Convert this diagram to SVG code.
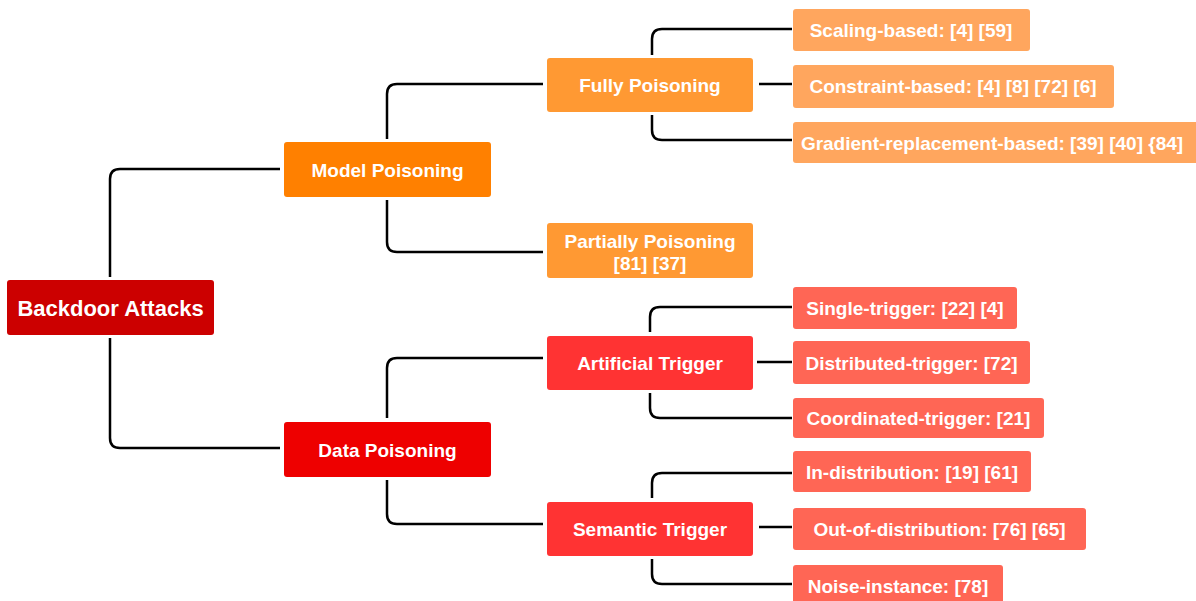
<svg xmlns="http://www.w3.org/2000/svg" width="1196" height="601" viewBox="0 0 1196 601">
  <style>
    .edge { fill: none; stroke: #000; stroke-width: 2.5; }
    text { font-family: "Liberation Sans", Arial, sans-serif; font-weight: bold; fill: #fff; text-anchor: middle; }
    .t19 { font-size: 19px; }
    .t22 { font-size: 22px; }
    .root { fill: #CC0000; }
    .model { fill: #FF8000; }
    .data { fill: #EE0000; }
    .mid-m { fill: #FF9933; }
    .mid-d { fill: #FF3333; }
    .leaf-m { fill: #FFA65E; }
    .leaf-d { fill: #FF6655; }
  </style>

  <g id="connectors">
    <!-- root to first level -->
    <path class="edge" d="M110,277 V179 Q110,169 120,169 H280"/>
    <path class="edge" d="M110,338 V438 Q110,448 120,448 H280"/>
    <!-- model poisoning branch -->
    <path class="edge" d="M387,139 V94 Q387,84 397,84 H543"/>
    <path class="edge" d="M387,200 V242 Q387,252 397,252 H543"/>
    <!-- data poisoning branch -->
    <path class="edge" d="M387,418 V368 Q387,358 397,358 H543"/>
    <path class="edge" d="M387,480 V514 Q387,524 397,524 H543"/>
    <!-- fully poisoning leaves -->
    <path class="edge" d="M652,55 V39 Q652,29 662,29 H792"/>
    <path class="edge" d="M759,84 H792"/>
    <path class="edge" d="M652,115 V130 Q652,140 662,140 H792"/>
    <!-- artificial trigger leaves -->
    <path class="edge" d="M650,332 V317 Q650,307 660,307 H792"/>
    <path class="edge" d="M757,362 H792"/>
    <path class="edge" d="M650,393 V408 Q650,418 660,418 H792"/>
    <!-- semantic trigger leaves -->
    <path class="edge" d="M652,498 V483 Q652,473 662,473 H792"/>
    <path class="edge" d="M759,527 H792"/>
    <path class="edge" d="M652,559 V574 Q652,584 662,584 H792"/>
  </g>

  <g id="backdoor-attacks">
    <rect class="root" x="7" y="280" width="207" height="55" rx="3"/>
    <text class="t22" x="110.5" y="315.5">Backdoor Attacks</text>
  </g>

  <g id="model-poisoning">
    <rect class="model" x="284" y="142" width="207" height="55" rx="3"/>
    <text class="t19" x="387.5" y="176.5">Model Poisoning</text>
  </g>
  <g id="data-poisoning">
    <rect class="data" x="284" y="422" width="207" height="55" rx="3"/>
    <text class="t19" x="387.5" y="456.5">Data Poisoning</text>
  </g>

  <g id="fully-poisoning">
    <rect class="mid-m" x="547" y="58" width="206" height="54" rx="3"/>
    <text class="t19" x="650" y="92">Fully Poisoning</text>
  </g>
  <g id="partially-poisoning">
    <rect class="mid-m" x="547" y="223" width="206" height="55" rx="3"/>
    <text class="t19" x="650" y="247.5">Partially Poisoning</text>
    <text class="t19" x="650" y="269.5">[81] [37]</text>
  </g>
  <g id="artificial-trigger">
    <rect class="mid-d" x="547" y="336" width="206" height="54" rx="3"/>
    <text class="t19" x="650" y="370">Artificial Trigger</text>
  </g>
  <g id="semantic-trigger">
    <rect class="mid-d" x="547" y="502" width="206" height="54" rx="3"/>
    <text class="t19" x="650" y="536">Semantic Trigger</text>
  </g>

  <g id="scaling-based">
    <rect class="leaf-m" x="793" y="9" width="237" height="42" rx="3"/>
    <text class="t19" x="911" y="37">Scaling-based: [4] [59]</text>
  </g>
  <g id="constraint-based">
    <rect class="leaf-m" x="793" y="65" width="321" height="43" rx="3"/>
    <text class="t19" x="953" y="93">Constraint-based: [4] [8] [72] [6]</text>
  </g>
  <g id="gradient-replacement-based">
    <rect class="leaf-m" x="793" y="122" width="410" height="41" rx="3"/>
    <text class="t19" x="992" y="149.5">Gradient-replacement-based: [39] [40] {84]</text>
  </g>

  <g id="single-trigger">
    <rect class="leaf-d" x="793" y="287" width="224" height="42" rx="3"/>
    <text class="t19" x="905" y="315">Single-trigger: [22] [4]</text>
  </g>
  <g id="distributed-trigger">
    <rect class="leaf-d" x="793" y="341" width="237" height="43" rx="3"/>
    <text class="t19" x="911.5" y="369.5">Distributed-trigger: [72]</text>
  </g>
  <g id="coordinated-trigger">
    <rect class="leaf-d" x="793" y="398" width="251" height="40" rx="3"/>
    <text class="t19" x="918.5" y="425">Coordinated-trigger: [21]</text>
  </g>
  <g id="in-distribution">
    <rect class="leaf-d" x="793" y="451" width="238" height="41" rx="3"/>
    <text class="t19" x="912" y="478.5">In-distribution: [19] [61]</text>
  </g>
  <g id="out-of-distribution">
    <rect class="leaf-d" x="793" y="508" width="293" height="42" rx="3"/>
    <text class="t19" x="939.5" y="536">Out-of-distribution: [76] [65]</text>
  </g>
  <g id="noise-instance">
    <rect class="leaf-d" x="793" y="565" width="210" height="42" rx="3"/>
    <text class="t19" x="898" y="593">Noise-instance: [78]</text>
  </g>
</svg>
